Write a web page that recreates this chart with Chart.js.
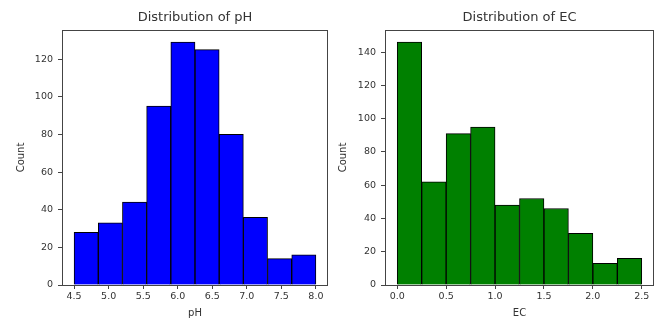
<!DOCTYPE html>
<html>
<head>
<meta charset="utf-8">
<script src="https://cdn.jsdelivr.net/npm/chart.js@4"></script>
<style>
  html, body { margin: 0; padding: 0; background: #fff; }
  #wrap { position: relative; width: 662px; height: 320px; }
  canvas { position: absolute; top: 0; }
  #phChart { left: 0; }
  #ecChart { left: 331px; }
</style>
</head>
<body>
<div id="wrap">
  <canvas id="phChart" width="331" height="320"></canvas>
  <canvas id="ecChart" width="331" height="320"></canvas>
</div>
<script>
// ===== DATA =====
const phEdges = [4.5, 4.85, 5.2, 5.55, 5.9, 6.25, 6.6, 6.95, 7.3, 7.65, 8.0];
const phCounts = [28, 33, 44, 95, 129, 125, 80, 36, 14, 16];
const phXTicks = [4.5, 5.0, 5.5, 6.0, 6.5, 7.0, 7.5, 8.0];
const phYTicks = [0, 20, 40, 60, 80, 100, 120];

const ecEdges = [0.0, 0.25, 0.5, 0.75, 1.0, 1.25, 1.5, 1.75, 2.0, 2.25, 2.5];
const ecCounts = [146, 62, 91, 95, 48, 52, 46, 31, 13, 16];
const ecXTicks = [0.0, 0.5, 1.0, 1.5, 2.0, 2.5];
const ecYTicks = [0, 20, 40, 60, 80, 100, 120, 140];

const TEXT = '#333';
const SPINE = '#444';
const FONT = 'DejaVu Sans';

// draws the full box around the plot area (matplotlib style spines)
const frame = {
  id: 'frame',
  afterDatasetsDraw(chart) {
    const a = chart.chartArea, ctx = chart.ctx;
    ctx.save();
    ctx.strokeStyle = SPINE;
    ctx.lineWidth = 1;
    ctx.strokeRect(Math.round(a.left) + 0.5, Math.round(a.top) + 0.5,
                   Math.round(a.right - a.left) - 1, Math.round(a.bottom - a.top));
    ctx.restore();
  }
};

function histChart(id, o) {
  // bar centres from the bin edges
  const pts = o.counts.map((c, i) => ({ x: (o.edges[i] + o.edges[i + 1]) / 2, y: c }));
  const lo = o.edges[0], hi = o.edges[o.edges.length - 1];
  const pad = (hi - lo) * 0.05;
  const ymax = Math.max(...o.counts) * 1.05;

  new Chart(document.getElementById(id), {
    type: 'bar',
    data: {
      datasets: [{
        data: pts,
        backgroundColor: o.color,
        borderColor: '#000',
        borderWidth: 1,
        barPercentage: 1,
        categoryPercentage: 1
      }]
    },
    options: {
      responsive: false,
      animation: false,
      devicePixelRatio: 1,
      layout: { padding: { left: 0, right: o.rightPad, top: 0, bottom: 0 } },
      plugins: {
        legend: { display: false },
        tooltip: { enabled: false },
        title: {
          display: true,
          fullSize: false,  // centre over the plot area, not the canvas
          text: o.title,
          color: TEXT,
          font: { family: FONT, size: 13, weight: 'normal' },
          padding: { top: 10, bottom: 4.4 }
        }
      },
      scales: {
        x: {
          type: 'linear',
          min: lo - pad,
          max: hi + pad,
          offset: false,
          grid: { display: true, drawOnChartArea: false, tickLength: 4, color: SPINE, offset: false },
          border: { display: false },
          afterBuildTicks: s => { s.ticks = o.xTicks.map(v => ({ value: v })); },
          afterFit: s => { s.height = 35; },
          ticks: {
            color: TEXT,
            font: { family: FONT, size: 9.5 },
            padding: 2,
            maxRotation: 0,
            callback: v => Number(v).toFixed(1)
          },
          title: {
            display: true,
            text: o.xLabel,
            color: TEXT,
            font: { family: FONT, size: 10 },
            padding: { top: 0, bottom: 1 }
          }
        },
        y: {
          min: 0,
          max: ymax,
          grid: { display: true, drawOnChartArea: false, tickLength: 4, color: SPINE },
          border: { display: false },
          afterBuildTicks: s => { s.ticks = o.yTicks.map(v => ({ value: v })); },
          afterFit: s => { s.width = o.yWidth; },
          ticks: {
            color: TEXT,
            font: { family: FONT, size: 9.5 },
            padding: 5
          },
          title: {
            display: true,
            text: 'Count',
            color: TEXT,
            font: { family: FONT, size: 10 },
            padding: { top: o.yTitlePad, bottom: 0 }
          }
        }
      }
    },
    plugins: [frame]
  });
}

histChart('phChart', {
  edges: phEdges, counts: phCounts, xTicks: phXTicks, yTicks: phYTicks,
  color: '#0000ff', title: 'Distribution of pH', xLabel: 'pH',
  yWidth: 62, rightPad: 3, yTitlePad: 15.5
});

histChart('ecChart', {
  edges: ecEdges, counts: ecCounts, xTicks: ecXTicks, yTicks: ecYTicks,
  color: '#008000', title: 'Distribution of EC', xLabel: 'EC',
  yWidth: 54, rightPad: 8, yTitlePad: 6
});
</script>
</body>
</html>
